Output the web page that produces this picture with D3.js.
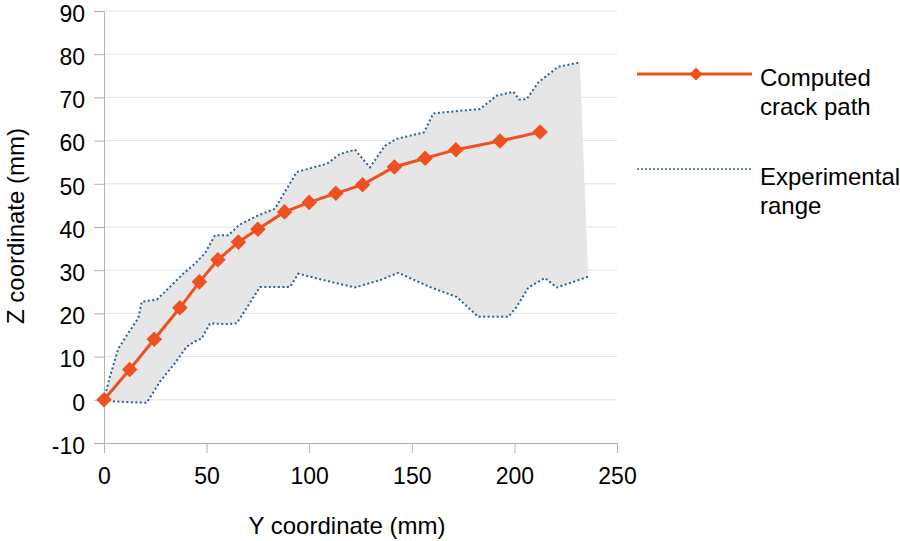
<!DOCTYPE html>
<html>
<head>
<meta charset="utf-8">
<script src="https://cdn.jsdelivr.net/npm/d3@7"></script>
<style>
  body { margin: 0; background: #fff; }
  text { font-family: "Liberation Sans", Arial, sans-serif; fill: #000; }
</style>
</head>
<body>
<div id="chart"></div>
<script>
// Computed crack path
const compY = [0, 12.5, 24.5, 37, 46.5, 55.5, 65.5, 75, 88, 100, 113, 126, 141.5, 156.5, 171.5, 193, 212.5];
const compZ = [0, 7, 14, 21.3, 27.3, 32.4, 36.5, 39.5, 43.5, 45.7, 47.8, 49.8, 53.9, 55.9, 57.9, 59.9, 62];

// Experimental range, upper bound
const upperY = [0, 2.9, 7, 11.8, 16.7, 18.4, 25.7, 29.7, 38.6, 44.3, 49.2, 54.1, 60.6, 66, 75.2, 83.3, 86.6, 93.9, 102, 108.5, 115, 122.3, 129.6, 136.9, 142.6, 155.9, 160.5, 173.5, 183.2, 191.4, 199.5, 202.4, 206, 211.7, 221.4, 231.9];
const upperZ = [0, 5.4, 11.9, 15.4, 18.9, 22.7, 23.2, 25, 29.2, 31.5, 33.9, 38.1, 38.1, 40.5, 42.7, 44.2, 46.9, 52.7, 53.8, 54.6, 56.9, 57.9, 53.8, 58.8, 60.4, 61.9, 66.3, 66.9, 67.3, 70.4, 71.3, 69.5, 69.6, 73.5, 77.1, 78.1];

// Experimental range, lower bound
const lowerY = [0, 5.4, 20.8, 27.3, 34.6, 40.3, 44.3, 47.6, 51.7, 60.6, 64.7, 76, 90.6, 94.7, 100.4, 105.3, 122.3, 134.5, 143.4, 158.9, 171.9, 182.4, 197, 201.1, 206.8, 214.9, 220.6, 228.7, 236];
const lowerZ = [0, -0.4, -0.7, 4.2, 8.5, 12.3, 13.5, 14.2, 17.7, 17.5, 17.7, 26.1, 26.1, 29.2, 28.5, 27.9, 26, 27.7, 29.4, 26.1, 23.8, 19.2, 19.2, 21.5, 26, 28.2, 26, 27.3, 28.5];

const xTicks = [0, 50, 100, 150, 200, 250];
const yTicks = [-10, 0, 10, 20, 30, 40, 50, 60, 70, 80, 90];

const legendLabels = [["Computed", "crack path"], ["Experimental", "range"]];

const W = 900, H = 541;
const margin = {top: 11, right: 283, bottom: 98, left: 104};
const width = W - margin.left - margin.right,
  height = H - margin.top - margin.bottom;

const orange = '#f0501f';
const blue = '#2a6099';

const svg = d3.select('#chart')
  .append('svg')
  .attr('width', W)
  .attr('height', H);

const g = svg.append('g')
  .attr('transform', `translate(${margin.left},${margin.top})`);

const xScale = d3.scaleLinear().domain([0, 250]).range([0, width]);
const yScale = d3.scaleLinear().domain([-10, 90]).range([height, 0]);

// Grid lines
g.append('g')
  .selectAll('line')
  .data(yTicks.filter(d => d !== -10))
  .enter()
  .append('line')
  .attr('x1', 0)
  .attr('x2', width)
  .attr('y1', d => yScale(d))
  .attr('y2', d => yScale(d))
  .attr('stroke', '#e3e3e3')
  .attr('stroke-width', 1);

// Experimental range area
const upper = upperY.map((y, i) => [y, upperZ[i]]);
const lower = lowerY.map((y, i) => [y, lowerZ[i]]);

const line = d3.line()
  .x(d => xScale(d[0]))
  .y(d => yScale(d[1]));

g.append('path')
  .attr('d', line(upper.concat(lower.slice().reverse())) + 'Z')
  .attr('fill', '#e6e6e6');

[upper, lower].forEach(pts => {
  g.append('path')
    .attr('d', line(pts))
    .attr('fill', 'none')
    .attr('stroke', blue)
    .attr('stroke-width', 2)
    .attr('stroke-dasharray', '2,2.5');
});

// Axes
const xAxis = g.append('g')
  .attr('transform', `translate(0,${height})`)
  .call(d3.axisBottom(xScale).tickValues(xTicks).tickSize(10).tickPadding(15)
    .tickFormat(d => String(d)));

const yAxis = g.append('g')
  .call(d3.axisLeft(yScale).tickValues(yTicks).tickSize(10).tickPadding(9)
    .tickFormat(d => String(d)));

[xAxis, yAxis].forEach(a => {
  a.select('.domain').attr('stroke', '#b3b3b3');
  a.selectAll('.tick line').attr('stroke', '#b3b3b3');
  a.selectAll('.tick text')
    .style('font-size', '23px')
    .style('font-family', '"Liberation Sans", Arial, sans-serif');
});

// labels sit a little below their grid line
yAxis.selectAll('.tick text').attr('dy', '0.45em');

// Computed crack path
const comp = compY.map((y, i) => [y, compZ[i]]);

g.append('path')
  .attr('d', line(comp))
  .attr('fill', 'none')
  .attr('stroke', orange)
  .attr('stroke-width', 3);

const diamond = d3.symbol().type(d3.symbolSquare).size(121);

g.selectAll('.marker')
  .data(comp)
  .enter()
  .append('path')
  .attr('class', 'marker')
  .attr('d', diamond)
  .attr('transform', d => `translate(${xScale(d[0])},${yScale(d[1])}) rotate(45)`)
  .attr('fill', orange);

// Axis titles
svg.append('text')
  .attr('x', 347)
  .attr('y', 534)
  .attr('text-anchor', 'middle')
  .style('font-size', '24px')
  .text('Y coordinate (mm)');

svg.append('text')
  .attr('transform', 'translate(24,226) rotate(-90)')
  .attr('text-anchor', 'middle')
  .style('font-size', '24px')
  .text('Z coordinate (mm)');

// Legend
const legend = svg.append('g');

legend.append('line')
  .attr('x1', 637).attr('x2', 752)
  .attr('y1', 74).attr('y2', 74)
  .attr('stroke', orange)
  .attr('stroke-width', 3);

legend.append('path')
  .attr('d', d3.symbol().type(d3.symbolSquare).size(85))
  .attr('transform', 'translate(696,74) rotate(45)')
  .attr('fill', orange);

legend.append('line')
  .attr('x1', 637).attr('x2', 752)
  .attr('y1', 169).attr('y2', 169)
  .attr('stroke', blue)
  .attr('stroke-width', 1.5)
  .attr('stroke-dasharray', '2,2');

legendLabels.forEach((lines, i) => {
  lines.forEach((t, j) => {
    legend.append('text')
      .attr('x', 760)
      .attr('y', 86 + i * 99 + j * 29)
      .style('font-size', '24px')
      .text(t);
  });
});
</script>
</body>
</html>
